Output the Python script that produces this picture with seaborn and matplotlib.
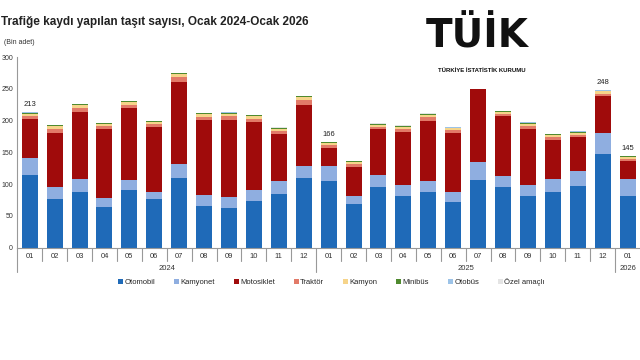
import pandas as pd
import matplotlib
matplotlib.use("Agg")
import matplotlib.pyplot as plt
import matplotlib.transforms as mtransforms
from matplotlib.patches import Patch
import seaborn as sns

# Months (Ocak 2024 - Ocak 2026)
months = ["01", "02", "03", "04", "05", "06", "07", "08", "09", "10", "11", "12",
          "01", "02", "03", "04", "05", "06", "07", "08", "09", "10", "11", "12",
          "01"]
years = ["2024"] * 12 + ["2025"] * 12 + ["2026"]

# Values in thousands (Bin adet)
otomobil = [114, 77, 88, 64, 90, 76, 109, 66, 63, 74, 85, 110,
            104, 69, 96, 81, 87, 72, 107, 96, 81, 87, 97, 148, 81]
kamyonet = [27, 18, 20, 14, 17, 12, 23, 17, 16, 17, 20, 19,
            25, 12, 18, 17, 17, 15, 28, 16, 17, 21, 23, 32, 27]
motosiklet = [61, 86, 105, 108, 112, 102, 129, 118, 122, 107, 74, 96,
              28, 46, 72, 84, 96, 94, 114, 95, 89, 62, 54, 58, 28]
traktor = [5, 6, 6, 5, 6, 4, 7, 5, 6, 5, 5, 7,
           4, 4, 4, 5, 5, 4, 0, 4, 5, 4, 4, 4, 3]
kamyon = [4, 4, 5, 4, 4, 3, 5, 4, 4, 4, 3, 5,
          3, 3, 3, 3, 4, 3, 0, 3, 3, 3, 3, 4, 3]
minibus = [1.5, 1.5, 1.5, 1, 1.5, 1.5, 1.5, 1.5, 1.5, 1.5, 1.5, 1.5,
           1.5, 1.5, 1.5, 1.5, 1.5, 1, 0, 1, 1.5, 1.5, 1.5, 1, 1.5]
otobus = [0.5, 0.5, 0.6, 0.4, 0.5, 0.5, 0.6, 0.5, 0.5, 0.5, 0.5, 0.5,
          0.5, 0.5, 0.5, 0.5, 0.5, 0.4, 0, 0.4, 0.5, 0.5, 0.5, 0.4, 0.5]
ozel = [0.4, 0.4, 0.3, 0.3, 0.4, 0.4, 0.3, 0.4, 0.4, 0.4, 0.4, 0.4,
        0.4, 0.4, 0.4, 0.4, 0.4, 0.3, 0, 0.3, 0.4, 0.4, 0.4, 0.3, 0.4]

# labelled totals
total_labels = {0: "213", 12: "166", 23: "248", 24: "145"}

series = ["Otomobil", "Kamyonet", "Motosiklet", "Traktör", "Kamyon",
          "Minibüs", "Otobüs", "Özel amaçlı"]
colors = ["#1f6ab8", "#8faee0", "#a00b0b", "#e27a68", "#f6d48a",
          "#4f8a2f", "#9cc3e8", "#e4e4e4"]

df = pd.DataFrame({"key": [f"{y}-{m}" for y, m in zip(years, months)],
                   "Otomobil": otomobil, "Kamyonet": kamyonet,
                   "Motosiklet": motosiklet, "Traktör": traktor,
                   "Kamyon": kamyon, "Minibüs": minibus,
                   "Otobüs": otobus, "Özel amaçlı": ozel})

sns.set_style("white")
plt.rcParams["font.family"] = ["Liberation Sans", "DejaVu Sans"]

fig = plt.figure(figsize=(6.4, 3.6), dpi=100)
ax = fig.add_axes([0.027, 0.3125, 0.973, 0.529])

bottom = pd.Series(0.0, index=df.index)
for name, col in zip(series, colors):
    sns.barplot(data=df, x="key", y=name, bottom=bottom.values, color=col,
                saturation=1, width=0.64, linewidth=0, ax=ax)
    bottom = bottom + df[name]

for i, txt in total_labels.items():
    ax.text(i, bottom[i] + 6, txt, ha="center", va="bottom", fontsize=5.5, color="#222222")

ax.set_xlim(-0.5, len(df) - 0.5)
ax.set_ylim(0, 300)
ax.set_yticks(range(0, 301, 50))
ax.tick_params(axis="y", labelsize=5, length=1.5, pad=1.5, colors="#333333")
ax.set_xticks(range(len(df)))
ax.set_xticklabels(months, fontsize=5.5, color="#333333")
ax.tick_params(axis="x", length=0, pad=4)
ax.set_xlabel("")
ax.set_ylabel("")
for s in ["top", "right"]:
    ax.spines[s].set_visible(False)
for s in ["left", "bottom"]:
    ax.spines[s].set_color("#999999")
    ax.spines[s].set_linewidth(0.8)

# category separators and year groups below the axis
trans = mtransforms.blended_transform_factory(ax.transData, ax.transAxes)
for i in range(len(df) - 1):
    if years[i] != years[i + 1]:
        ax.plot([i + 0.5, i + 0.5], [0, -0.13], transform=trans, color="#999999",
                lw=0.8, clip_on=False)
    else:
        ax.plot([i + 0.5, i + 0.5], [0, -0.07], transform=trans, color="#999999",
                lw=0.8, clip_on=False)
ax.plot([-0.5, -0.5], [0, -0.13], transform=trans, color="#999999", lw=0.8, clip_on=False)
for yr in ["2024", "2025", "2026"]:
    idx = [i for i, y in enumerate(years) if y == yr]
    ax.text((idx[0] + idx[-1]) / 2, -0.11, yr, transform=trans, ha="center",
            va="center", fontsize=5.5, color="#333333")

# legend
handles = [Patch(facecolor=c, edgecolor="none", label=n) for n, c in zip(series, colors)]
fig.legend(handles=handles, loc="center", bbox_to_anchor=(0.518, 0.216), ncol=8,
           frameon=False, fontsize=5.5, handlelength=0.6, handleheight=0.6,
           handletextpad=0.2, columnspacing=2.5)

# title
fig.text(0.001, 0.939, "Trafiğe kaydı yapılan taşıt sayısı, Ocak 2024-Ocak 2026",
         fontsize=8.5, fontweight="bold", ha="left", va="center", color="#222222")
fig.text(0.006, 0.882, "(Bin adet)", fontsize=5, ha="left", va="center", color="#333333")

# TÜİK logo (as text)
fig.text(0.745, 0.90, "TÜİK", fontsize=28, fontweight="bold", ha="center",
         va="center", color="#111111", family=["DejaVu Sans"])
fig.text(0.753, 0.805, "TÜRKİYE İSTATİSTİK KURUMU", fontsize=4.3, fontweight="bold",
         ha="center", va="center", color="#111111")

fig.savefig("out.png", dpi=100)
